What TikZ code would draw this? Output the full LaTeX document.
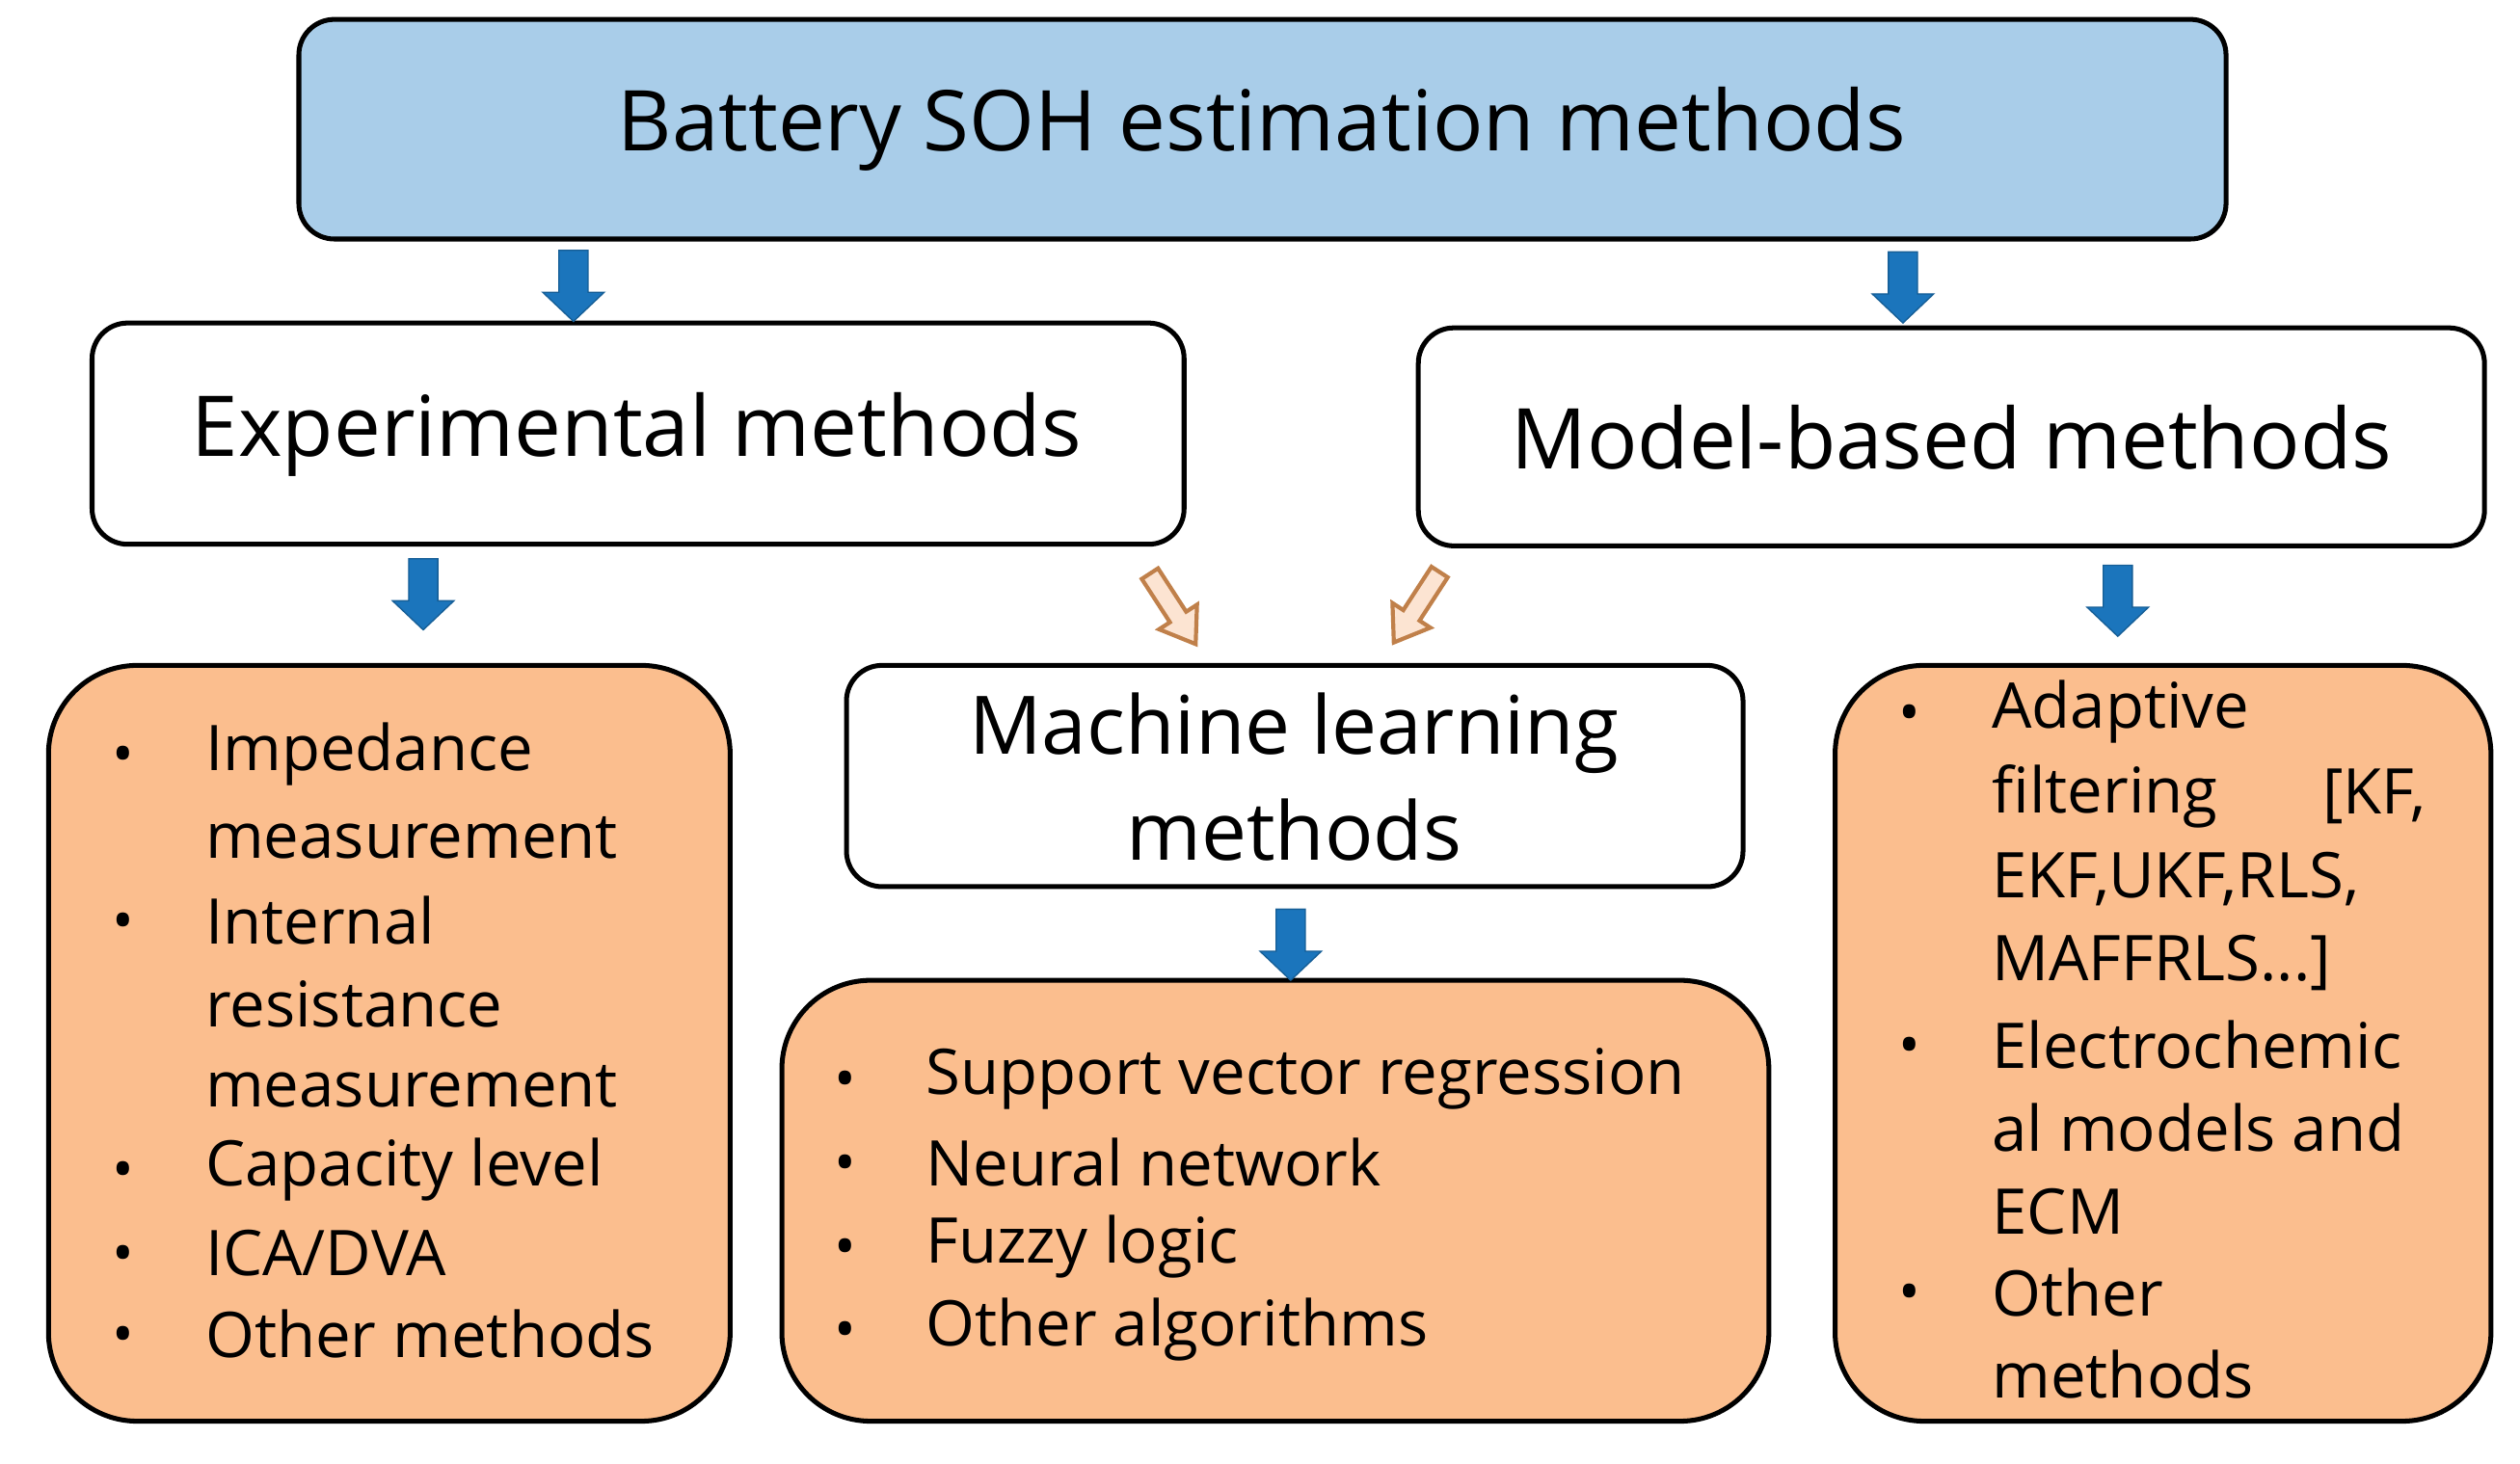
\documentclass[tikz,border=0pt]{standalone}
\usepackage{fontspec}
\setmainfont{Open Sans}
\definecolor{topblue}{HTML}{A9CDE9}
\definecolor{boxorange}{HTML}{FBBE8E}
\definecolor{arrblue}{HTML}{1B75BC}
\definecolor{hollowfill}{HTML}{FCE4D2}
\definecolor{hollowline}{HTML}{C0804A}
\begin{document}
\begin{tikzpicture}[x=1pt,y=-1pt,
  box/.style={draw=black,line width=3pt,rounded corners=22pt},
  obox/.style={draw=black,line width=3pt,rounded corners=55pt,fill=boxorange},
  barrow/.style={fill=arrblue,draw=arrblue!80!black,line width=0.8pt},
  harrow/.style={fill=hollowfill,draw=hollowline,line width=2.5pt,line join=miter},
  big/.style={font=\fontsize{52}{58}\selectfont},
  mid/.style={font=\fontsize{52}{58}\selectfont},
  txt/.style={anchor=west,font=\fontsize{39}{44}\selectfont,inner sep=0pt},
  bul/.style={anchor=center,font=\fontsize{36}{40}\selectfont,inner sep=0pt}]
\newcommand{\blockarrow}[3]{%
  \begin{scope}[shift={(#1)},rotate=#2]
    \path[#3] (-22,-9)--(4,-9)--(4,-19)--(22,0)--(4,19)--(4,9)--(-22,9)--cycle;
  \end{scope}}
\newcommand{\hollowarrow}[2]{%
  \begin{scope}[shift={(#1)},rotate=#2]
    \path[harrow] (-26,-6)--(6,-6)--(6,-14)--(26,0)--(6,14)--(6,6)--(-26,6)--cycle;
  \end{scope}}
\useasboundingbox (0,0) rectangle (1560,906);
% boxes
\draw[box,fill=topblue] (185,12) rectangle (1378,148);
\node[big] (top) at (781,80) {Battery SOH estimation methods};
\draw[box,fill=white] (57,200) rectangle (733,337);
\node[mid] (exp) at (394,269) {Experimental methods};
\draw[box,fill=white] (878,203) rectangle (1538,338);
\node[mid] (mod) at (1208,271) {Model-based methods};
\draw[box,fill=white] (524,412) rectangle (1079,549);
\node[mid,align=center,font=\fontsize{50}{66}\selectfont] (ml) at (801,481) {Machine learning\\methods};
\draw[obox] (30,412) rectangle (452,880);
\draw[obox] (484,607) rectangle (1095,880);
\draw[obox] (1136,412) rectangle (1542,880);
% arrows
\coordinate (a1) at (355,177);
\coordinate (a2) at (1178,178);
\coordinate (a3) at (262,368);
\coordinate (a4) at (1311,372);
\coordinate (a5) at (799,585);
\coordinate (h1) at (726,377);
\coordinate (h2) at (877,376);
\blockarrow{a1}{-90}{barrow}
\blockarrow{a2}{-90}{barrow}
\blockarrow{a3}{-90}{barrow}
\blockarrow{a4}{-90}{barrow}
\blockarrow{a5}{-90}{barrow}
\hollowarrow{h1}{-57}
\hollowarrow{h2}{-123}
% left list
\foreach \y in {467,570,724,776,826} \node[bul] at (76,\y+4) {•};
\node[txt] (l1) at (127,467) {Impedance};
\node[txt] (l2) at (127,519) {measurement};
\node[txt] (l3) at (127,570) {Internal};
\node[txt] (l4) at (127,622) {resistance};
\node[txt] (l5) at (127,673) {measurement};
\node[txt] (l6) at (127,724) {Capacity level};
\node[txt] (l7) at (127,776) {ICA/DVA};
\node[txt] (l8) at (127,826) {Other methods};
% middle list
\foreach \y in {668,720,772,823} \node[bul] at (523,\y+4) {•};
\node[txt] (m1) at (573,668) {Support vector regression};
\node[txt] (m2) at (573,720) {Neural network};
\node[txt] (m3) at (573,772) {Fuzzy logic};
\node[txt] (m4) at (573,823) {Other algorithms};
% right list
\foreach \y in {441,647,800} \node[bul] at (1182,\y+4) {•};
\node[txt] (r1) at (1233,441) {Adaptive};
\node[txt] (r2) at (1233,493) {filtering};
\node[txt,anchor=east] (r2b) at (1502,493) {[KF,};
\node[txt] (r3) at (1233,544) {EKF,UKF,RLS,};
\node[txt] (r4) at (1233,596) {MAFFRLS...]};
\node[txt] (r5) at (1233,647) {Electrochemic};
\node[txt] (r6) at (1233,698) {al models and};
\node[txt] (r7) at (1233,750) {ECM};
\node[txt] (r8) at (1233,800) {Other};
\node[txt] (r9) at (1233,851) {methods};
\end{tikzpicture}
\end{document}
